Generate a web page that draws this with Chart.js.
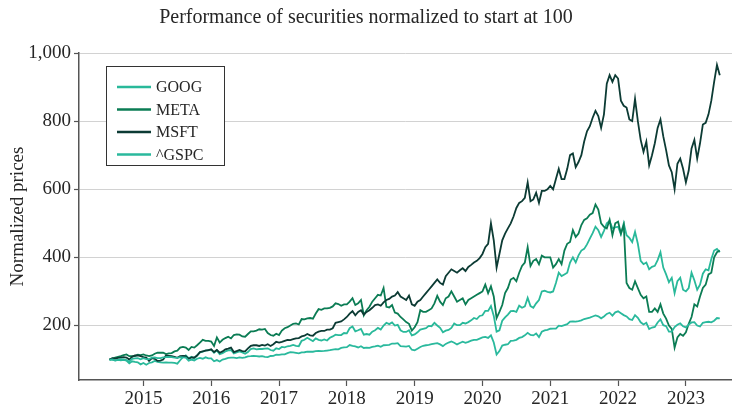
<!DOCTYPE html>
<html>
<head>
<meta charset="utf-8">
<title>Performance of securities normalized to start at 100</title>
<script src="https://cdn.jsdelivr.net/npm/chart.js@4.4.0/dist/chart.umd.min.js"></script>
<style>
  html, body { margin: 0; padding: 0; background: #fff; overflow: hidden; }
  #wrap { width: 732px; height: 407px; }
</style>
</head>
<body>
<div id="wrap"><canvas id="cv" width="732" height="407"></canvas></div>
<script>
// ---- data: two readings per month (1st / 15th), Jul 2014 -> Jul 2023 ----
const startYear = 2014.5;
const dates = Array.from({ length: 217 }, (_, i) => startYear + i / 24);

const yearTicks = [2015, 2016, 2017, 2018, 2019, 2020, 2021, 2022, 2023];
const priceTicks = [200, 400, 600, 800, 1000];

const goog = [
  100, 100, 97, 99, 98, 99, 97, 89, 95, 93, 92, 86,                                                  // 2014
  90, 85, 90, 92, 96, 93, 92, 91, 92, 91, 91, 90, 88, 98, 107, 112, 104, 108, 103, 112, 121, 123, 127, 127,   // 2015
  129, 120, 127, 116, 119, 124, 127, 128, 118, 121, 124, 121, 117, 122, 131, 133, 130, 131, 131, 132, 133, 128, 126, 133, // 2016
  131, 137, 136, 139, 140, 143, 140, 139, 155, 158, 164, 159, 154, 162, 158, 156, 159, 156, 164, 168, 173, 172, 172, 178, // 2017
  177, 192, 197, 183, 186, 190, 173, 175, 173, 182, 186, 193, 188, 200, 208, 204, 209, 200, 202, 186, 181, 181, 186, 171, // 2018
  174, 180, 188, 190, 192, 199, 198, 208, 200, 193, 180, 185, 187, 193, 206, 201, 201, 208, 206, 210, 215, 222, 219, 228, // 2019
  230, 243, 243, 257, 228, 182, 186, 214, 224, 232, 242, 243, 240, 258, 252, 256, 281, 257, 252, 265, 275, 300, 302, 299, // 2020
  297, 300, 325, 355, 345, 350, 355, 385, 400, 385, 406, 420, 425, 438, 455, 471, 490, 480, 460, 478, 500, 507, 485, 488, // 2021
  490, 468, 500, 465, 457, 445, 475, 440, 390, 380, 385, 365, 372, 375, 392, 415, 370, 350, 327, 340, 295, 330, 340, 305, // 2022
  300, 310, 355, 333, 305, 320, 352, 365, 362, 395, 420, 425, 415                                    // 2023
];

const meta = [
  100, 103, 106, 108, 110, 113, 115, 110, 110, 110, 114, 113,
  115, 112, 110, 112, 117, 120, 120, 120, 116, 118, 119, 124, 126, 135, 137, 135, 128, 137, 135, 142, 150, 158, 155, 155,
  153, 140, 165, 150, 158, 163, 167, 162, 172, 174, 173, 168, 167, 175, 183, 183, 185, 189, 188, 190, 178, 172, 170, 176,
  172, 185, 192, 195, 200, 205, 206, 203, 219, 218, 221, 222, 220, 235, 248, 246, 250, 250, 252, 256, 265, 263, 258, 262,
  262, 270, 280, 260, 265, 275, 230, 245, 255, 270, 280, 290, 288, 310, 255, 253, 260, 238, 235, 225, 218, 210, 205, 185,
  195, 210, 245, 240, 240, 245, 250, 265, 287, 270, 260, 280, 285, 300, 285, 270, 275, 280, 262, 275, 280, 285, 290, 295,
  300, 320, 295, 315, 285, 222, 240, 260, 295, 310, 335, 340, 330, 355, 375, 385, 430, 375, 390, 395, 380, 405, 400, 400,
  400, 370, 380, 395, 380, 420, 440, 445, 480, 460, 470, 495, 510, 515, 525, 530, 555, 540, 500, 490, 485, 510, 465, 500,
  505, 470, 495, 325, 310, 305, 330, 310, 290, 280, 285, 240, 240, 250, 240, 262, 235, 220, 200, 190, 135, 165, 175, 170,
  180, 205, 225, 262, 256, 285, 310, 320, 350, 355, 400, 415, 420
];

const msft = [
  100, 104, 103, 105, 106, 107, 106, 100, 108, 112, 112, 110,
  107, 106, 96, 104, 102, 96, 97, 100, 112, 111, 110, 108, 105, 110, 111, 110, 102, 106, 106, 112, 122, 124, 126, 128,
  130, 122, 128, 120, 124, 130, 132, 135, 122, 125, 128, 125, 124, 133, 140, 142, 142, 140, 143, 141, 145, 140, 145, 152,
  150, 152, 155, 158, 157, 160, 162, 163, 168, 170, 175, 171, 170, 178, 182, 184, 184, 188, 188, 192, 208, 210, 212, 218,
  225, 235, 242, 230, 240, 245, 232, 240, 245, 252, 260, 262, 258, 268, 275, 278, 285, 288, 298, 285, 280, 275, 288, 262,
  258, 270, 275, 285, 295, 305, 315, 325, 335, 325, 320, 345, 355, 365, 360, 355, 362, 368, 360, 372, 378, 385, 390, 398,
  410, 430, 440, 500, 450, 370, 410, 450, 470, 485, 500, 520, 545, 560, 565, 575, 620, 565, 570, 590, 560, 595, 595, 600,
  610, 600, 630, 660, 630, 630, 660, 700, 705, 665, 680, 700, 740, 770, 785, 810, 830, 815, 780, 820, 910, 935, 915, 935,
  925, 860, 845, 840, 805, 800, 865, 800, 745, 710, 740, 670, 700, 735, 780, 805, 755, 715, 670, 650, 600, 675, 690, 660,
  620, 655, 720, 745, 690, 735, 790, 795, 820, 860, 915, 965, 935
];

const gspc = [
  100, 100.5, 97.5, 99, 101.5, 100.5, 98.5, 94.5, 102, 103.5, 104, 101,
  104, 101, 101, 106, 106.5, 104, 104.5, 106.5, 107, 107.5, 107, 105.5, 105, 107, 106.5, 106, 97, 100, 97.5, 102.5, 105, 102.5, 106.5, 103.5,
  103.5, 95, 98.5, 94.5, 100, 102, 105, 105.5, 105.5, 104.5, 106.5, 105, 106.5, 109.5, 110, 111, 110, 109, 110, 108, 107, 110.5, 111, 114.5,
  113.5, 115, 115.5, 119, 121.5, 121, 119.5, 118, 121, 121.5, 123, 123, 123, 124.5, 125.5, 125, 125.5, 126.5, 127.5, 129.5, 130.5, 130, 134, 135.5,
  136.5, 142.5, 140, 138.5, 135.5, 139, 134, 135, 134.5, 137.5, 138.5, 141, 137.5, 142, 142.5, 143, 147, 147, 148, 139.5, 139, 138, 140, 129,
  127, 132, 137, 140.5, 142, 143, 145, 147, 148, 144.5, 139.5, 146, 150, 153, 149.5, 144.5, 148.5, 152.5, 149, 152, 155.5, 158, 158, 161.5,
  165, 166.5, 163.5, 171, 150, 115, 125, 141, 143.5, 145, 155, 155.5, 158, 163.5, 166, 171, 178.5, 172.5, 171, 176.5, 166, 181.5, 185.5, 187,
  190.5, 191, 191, 199.5, 198, 201, 204, 211.5, 212, 211.5, 213, 215, 219, 221, 223, 226.5, 229.5, 227, 221, 226.5, 234, 237.5, 229, 238.5,
  241.5, 236, 230.5, 226.5, 218.5, 216, 230.5, 222.5, 209.5, 203, 208, 189.5, 194, 196, 209, 218, 201, 198, 182, 182, 195.5, 202, 206.5, 197.5,
  194.5, 202.5, 209, 210, 200, 197, 208, 210, 211, 209.5, 214, 222, 221
];

const seriesNames  = ["GOOG", "META", "MSFT", "^GSPC"];
const seriesColors = ["#29b99a", "#0b7c54", "#0c3b34", "#2ab99d"];

// ---- chart ----
const SERIF = "'Liberation Serif', 'Times New Roman', serif";
const AXIS  = "#555";
const TEXT  = "#262626";

const legendBox = {
  id: "legendBox",
  afterDraw(chart) {
    const c = chart.ctx;
    c.save();
    c.fillStyle = "#fff";
    c.fillRect(106, 66, 118, 99);
    c.strokeStyle = "#333";
    c.lineWidth = 1;
    c.strokeRect(106.5, 66.5, 118, 99);
    chart.data.datasets.forEach((ds, i) => {
      const y = 87 + i * 22.5;
      c.strokeStyle = ds.borderColor;
      c.lineWidth = 2.5;
      c.beginPath(); c.moveTo(117, y); c.lineTo(151, y); c.stroke();
      c.fillStyle = TEXT;
      c.font = `16px ${SERIF}`;
      c.textBaseline = "middle";
      c.fillText(ds.label, 156, y + 1);
    });
    c.restore();
  },
};

const mk = (i, data) => ({
  label: seriesNames[i], data,
  borderColor: seriesColors[i], backgroundColor: seriesColors[i],
  borderWidth: 1.8, pointRadius: 0, tension: 0, fill: false,
  order: 4 - i,
});

new Chart(document.getElementById("cv").getContext("2d"), {
  type: "line",
  plugins: [legendBox],
  data: {
    labels: dates,
    datasets: [mk(0, goog), mk(1, meta), mk(2, msft), mk(3, gspc)],
  },
  options: {
    responsive: false, animation: false, devicePixelRatio: 1,
    layout: { padding: 0 },
    plugins: {
      legend: { display: false },
      tooltip: { enabled: false },
      title: {
        display: true, text: "Performance of securities normalized to start at 100",
        color: TEXT, font: { family: SERIF, size: 20, weight: "normal" },
        padding: { top: 6, bottom: 23 },
      },
    },
    scales: {
      x: {
        type: "linear", min: 2014.05, max: 2023.68,
        afterBuildTicks: (s) => { s.ticks = yearTicks.map((v) => ({ value: v })); },
        afterFit: (s) => { s.height = 27; },
        ticks: { callback: (v) => String(v), color: TEXT, font: { family: SERIF, size: 19 }, padding: 2, maxRotation: 0, autoSkip: false },
        grid: { drawOnChartArea: false, drawTicks: true, tickLength: 6, tickColor: AXIS, tickWidth: 1.2 },
        border: { display: true, color: AXIS, width: 1.5 },
      },
      y: {
        min: 40, max: 1000,
        afterBuildTicks: (s) => { s.ticks = priceTicks.map((v) => ({ value: v })); },
        afterFit: (s) => { s.width = 79; },
        ticks: { callback: (v) => v.toLocaleString("en-US"), color: TEXT, font: { family: SERIF, size: 19 }, padding: 3 },
        grid: { color: "#d2d2d2", lineWidth: 1, tickLength: 5, tickColor: AXIS, tickWidth: 1.2 },
        border: { display: true, color: AXIS, width: 1.5 },
        title: { display: true, text: "Normalized prices", color: TEXT, font: { family: SERIF, size: 19 }, padding: { top: 7, bottom: 0 } },
      },
    },
  },
});
</script>
</body>
</html>
